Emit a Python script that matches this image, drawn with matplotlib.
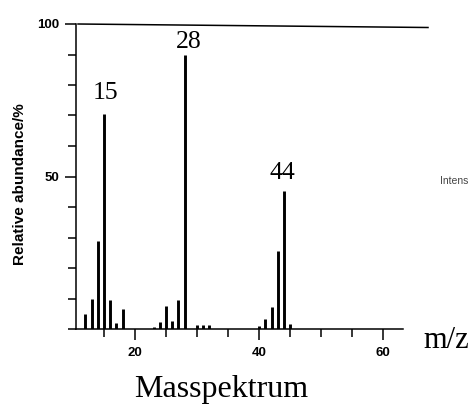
import matplotlib
matplotlib.use("Agg")
import matplotlib.pyplot as plt
from matplotlib.lines import Line2D
from matplotlib.ticker import MultipleLocator

# ---- data ----
mz = [12, 13, 14, 15, 16, 17, 18,
      23, 24, 25, 26, 27, 28,
      30, 31, 32,
      40, 41, 42, 43, 44, 45]
abundance = [4.8, 9.8, 28.8, 70.5, 9.5, 1.9, 6.5,
             0.8, 2.3, 7.6, 2.6, 9.4, 90.0,
             1.2, 1.2, 1.2,
             1.0, 3.3, 7.1, 25.6, 45.1, 1.6]
labelled_peaks = [15, 28, 44]
label_offsets = [7.0, 4.0, 6.0]          # vertical gap above peak (in %)
label_xshift = [0.2, 0.6, -0.2]          # small horizontal shift (m/z units)
x_major = [20, 40, 60]
y_major = [50, 100]

W, H = 473, 407
fig = plt.figure(figsize=(W / 100, H / 100), dpi=100)
fig.patch.set_facecolor("white")

# axes placed in pixel terms
left, right, top, bottom = 76, 403, 24, 329
ax = fig.add_axes([left / W, 1 - bottom / H, (right - left) / W, (bottom - top) / H])
ax.set_xlim(10.48, 63.2)
ax.set_ylim(0, 100)

ax.vlines(mz, 0, abundance, colors="black", linewidth=2.1)

sans = ["Liberation Sans", "DejaVu Sans"]
serif = ["Liberation Serif", "DejaVu Serif"]

for p, off, dx in zip(labelled_peaks, label_offsets, label_xshift):
    v = abundance[mz.index(p)]
    ax.text(p + dx, v + off, str(p), ha="center", va="center",
            fontsize=18.5, family=serif, color="black")

for s in ["top", "right"]:
    ax.spines[s].set_visible(False)
for s in ["left", "bottom"]:
    ax.spines[s].set_linewidth(1.1)

ax.set_xticks(x_major)
ax.set_xticklabels([str(v) for v in x_major])
ax.xaxis.set_minor_locator(MultipleLocator(5))
ax.set_yticks(y_major)
ax.set_yticklabels([str(v) for v in y_major])
ax.yaxis.set_minor_locator(MultipleLocator(10))

ax.tick_params(axis="both", which="major", direction="out", length=8, width=1.1,
               labelsize=9.5, pad=4)
ax.tick_params(axis="both", which="minor", direction="out", length=5.5, width=1.1)
ax.tick_params(axis="x", which="major", pad=5)
for lab in ax.get_xticklabels() + ax.get_yticklabels():
    lab.set_fontweight("bold")
    lab.set_family(sans)

# top frame line (extends past the x axis, slightly tilted as in the scan)
fig.add_artist(Line2D([78 / W, 428 / W], [1 - 24 / H, 1 - 27.5 / H],
                      transform=fig.transFigure, color="black", linewidth=1.1))

fig.text(20 / W, 1 - 184 / H, "Relative abundance/%", rotation=90,
         ha="center", va="center", fontsize=11, fontweight="bold", family=sans)
fig.text(446 / W, 1 - 341 / H, "m/z", ha="center", va="center",
         fontsize=22, family=serif)
fig.text(221.5 / W, 1 - 390 / H, "Masspektrum", ha="center", va="center",
         fontsize=23, family=serif)
fig.text(440 / W, 1 - 181 / H, "Intens", ha="left", va="center",
         fontsize=7.5, color="#444444", family=sans)

fig.savefig("out.png", dpi=100, facecolor="white")
